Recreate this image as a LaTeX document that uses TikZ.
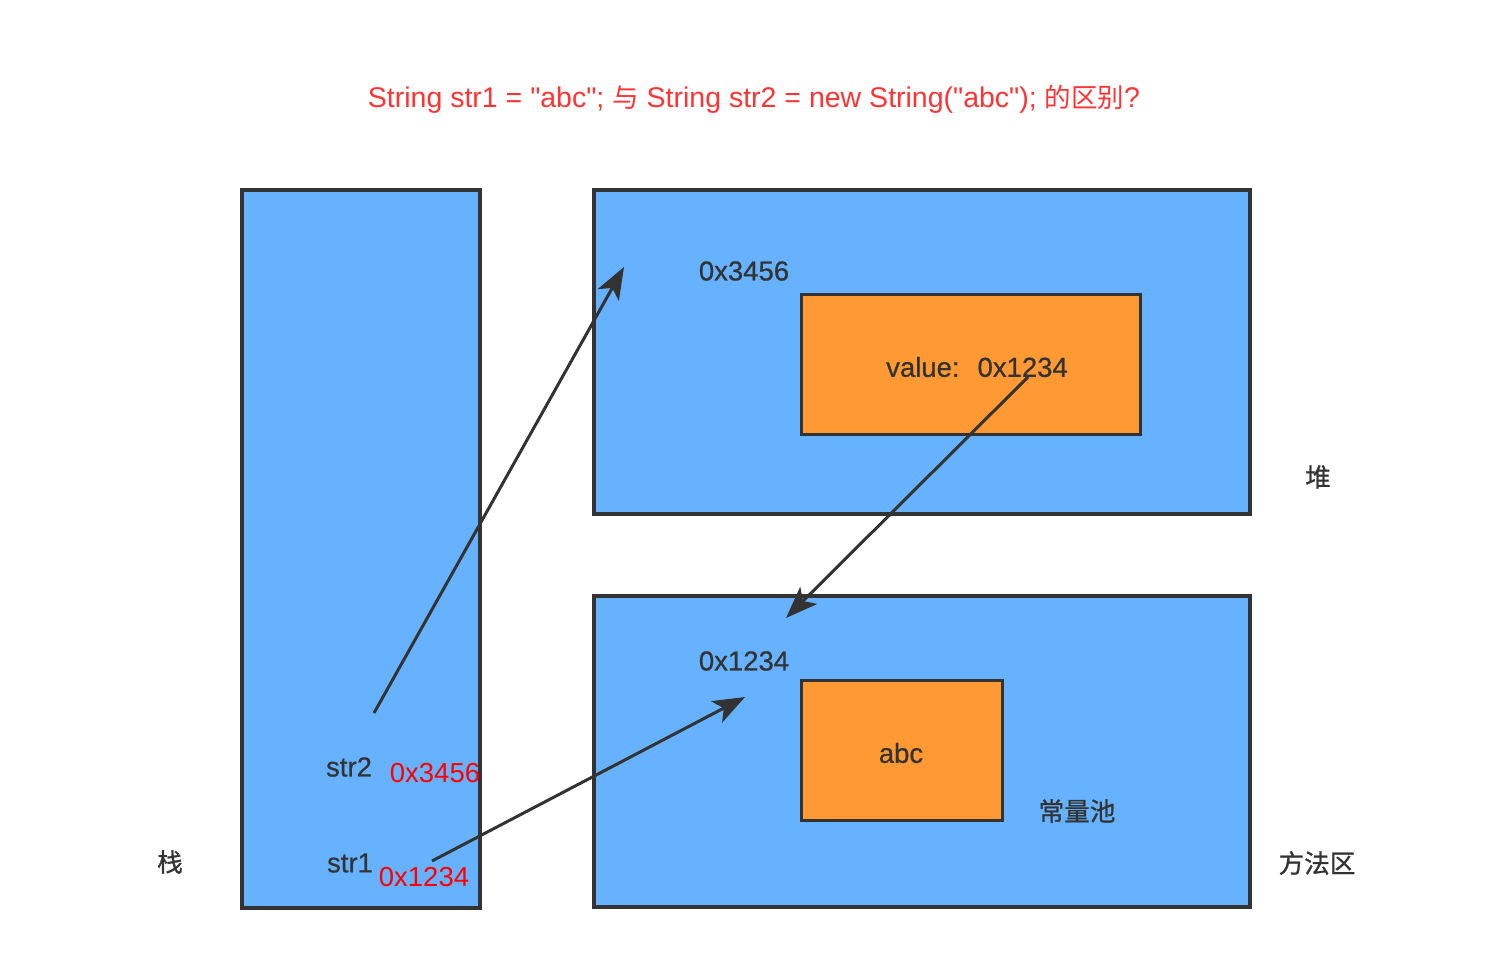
\documentclass[tikz,border=0pt]{standalone}
\usepackage{fontspec}
\setmainfont{Liberation Sans}[Ligatures=TeXOff]
\newfontfamily\cjk{Noto Sans CJK SC}[Scale=0.93]
\newfontfamily\cjkb{Noto Sans CJK SC}[Scale=0.93, FakeBold=0.9]
\usetikzlibrary{arrows.meta}
\definecolor{areablue}{HTML}{66B2FF}
\definecolor{boxorange}{HTML}{FF9933}
\definecolor{edge}{HTML}{333333}
\definecolor{titlered}{HTML}{FF3333}
\definecolor{addrred}{HTML}{FF0000}
\tikzset{
  area/.style={draw=edge, fill=areablue, line width=3.5pt, anchor=north west, inner sep=0pt, outer sep=0pt},
  obj/.style={draw=edge, fill=boxorange, line width=3pt, anchor=north west, inner sep=0pt, outer sep=0pt},
  lbl/.style={text=edge, font=\fontsize{27.5}{32}\selectfont\addfontfeatures{FakeBold=0.6}, inner sep=0pt},
  addr/.style={text=addrred, font=\fontsize{27.5}{32}\selectfont, inner sep=0pt},
  ref/.style={draw=edge, line width=3pt, -{Stealth[length=32pt,width=24pt,inset=8pt]}}
}
\begin{document}
\begin{tikzpicture}[x=1pt,y=-1pt]
\useasboundingbox (0,0) rectangle (1488,964);
\node[text=titlered, font=\fontsize{28.5}{32}\selectfont, inner sep=0pt] (title) at (754,99) {String str1 = "abc"; {\cjk 与} String str2 = new String("abc"); {\cjk 的区别}?};
\node[area, minimum width=238pt, minimum height=718pt] (stack) at (242,190) {};
\node[area, minimum width=656pt, minimum height=324pt] (heap) at (594,190) {};
\node[obj, minimum width=339pt, minimum height=140pt] (strobj) at (801,294) {};
\node[area, minimum width=656pt, minimum height=311pt] (method) at (594,596) {};
\node[obj, minimum width=201pt, minimum height=140pt] (abcbox) at (801,680) {};
\node[lbl] (haddr) at (744,271) {0x3456};
\node[lbl] (val) at (977,367) {value:\hspace{18pt}0x1234};
\node[lbl] (heaplbl) at (1318,477) {\cjkb 堆};
\node[lbl] (paddr) at (744,661) {0x1234};
\node[lbl] (abc) at (901,753) {abc};
\node[lbl] (pool) at (1077,811) {\cjkb 常量池};
\node[lbl] (methlbl) at (1317,863) {\cjkb 方法区};
\node[lbl] (stacklbl) at (170,862) {\cjkb 栈};
\node[lbl] (s2) at (349,767) {str2};
\node[addr] (s2addr) at (435,773) {0x3456};
\node[lbl] (s1) at (350,863) {str1};
\node[addr] (s1addr) at (424,877) {0x1234};
\coordinate (s2from) at (374,713);
\coordinate (s2to) at (624,267);
\coordinate (vfrom) at (1028,377);
\coordinate (vto) at (786,618);
\coordinate (s1from) at (432,861);
\coordinate (s1to) at (745,697);
\draw[ref] (s2from) -- (s2to);
\draw[ref] (vfrom) -- (vto);
\draw[ref] (s1from) -- (s1to);
\end{tikzpicture}
\end{document}
